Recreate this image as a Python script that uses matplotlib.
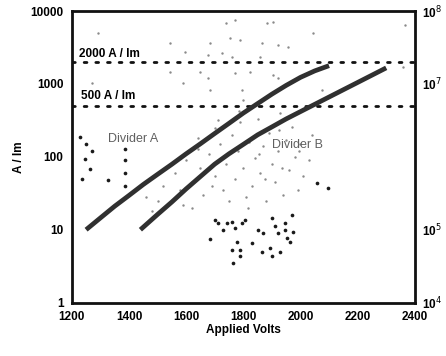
import numpy as np
import matplotlib
matplotlib.use("Agg")
from matplotlib import pyplot as plt
from matplotlib.ticker import FixedLocator, NullLocator

plt.rcParams['font.family'] = ['Liberation Sans', 'DejaVu Sans']

# divider curves (applied volts, A / lm)
volts_a = [1250, 1300, 1350, 1400, 1450, 1500, 1550, 1600, 1650, 1700, 1750,
           1800, 1850, 1900, 1950, 2000, 2050, 2100]
amps_a = [10, 14.5, 21, 29.5, 41.7, 57.5, 79, 110, 151, 209, 288,
          398, 537, 724, 955, 1230, 1510, 1780]
volts_b = [1440, 1500, 1550, 1600, 1650, 1700, 1750, 1800, 1850, 1900, 1950,
           2000, 2050, 2100, 2150, 2200, 2250, 2300]
amps_b = [10, 16.2, 24, 36.3, 53.7, 79.4, 110, 148, 200, 257, 331,
          417, 525, 661, 832, 1047, 1318, 1660]

# reference levels
levels = [2000, 500]
level_labels = ['2000 A / lm', '500 A / lm']

# dark speckles of the scan
dark_v = [1683, 1700, 1711, 1728, 1742, 1760, 1770, 1777, 1760, 1788, 1795, 1805,
          1830, 1851, 1868, 1865, 1893, 1900, 1910, 1921, 1928, 1945, 1945, 1952,
          1963, 1973, 1970, 1900, 1763, 1788, 2057, 2096,
          1234, 1245, 1263, 1326, 1228, 1385, 1385, 1385, 1385, 1250, 1270]
dark_a = [7.5, 13.4, 12.2, 9.8, 12.2, 12.6, 10.7, 6.7, 5.2, 5.2, 12.2, 13.4,
          6.5, 9.8, 8.9, 4.9, 5.7, 4.4, 11.4, 8.9, 4.9, 12.2, 9.8, 7.6,
          6.7, 9.2, 15.7, 14.7, 3.5, 4.4, 44, 37,
          50, 94, 69, 48, 187, 40, 60, 90, 130, 150, 120]

# faint speckles of the scan
light_v = [1520, 1560, 1580, 1600, 1620, 1640, 1650, 1660, 1680, 1700, 1700, 1720,
           1730, 1740, 1760, 1770, 1780, 1790, 1800, 1810, 1820, 1830, 1840, 1850,
           1860, 1870, 1880, 1890, 1900, 1910, 1920, 1930, 1940, 1950, 1960, 1970,
           1980, 1990, 2000, 2010, 2030, 1480, 1500, 1460, 1590, 1620, 1690, 1750,
           1815, 1875, 1935, 1995, 2040, 1640, 1710, 1785, 1855, 1925,
           1739, 1770, 1882, 1903, 1753, 1788, 1683, 1543, 1865, 1921, 1956, 1595,
           1676, 1725, 1760, 1858, 1543, 1648, 1676, 1770, 1823, 1588, 1683, 1795,
           1903, 1921, 1798, 2365, 2358, 2043, 2075, 1291, 1270]
light_a = [40, 60, 35, 90, 45, 130, 70, 30, 110, 55, 250, 150,
           35, 80, 200, 50, 120, 300, 70, 28, 160, 40, 95, 330,
           60, 140, 25, 210, 80, 45, 120, 400, 30, 170, 65, 260,
           100, 35, 150, 55, 90, 18, 25, 28, 22, 20, 40, 25,
           20, 50, 70, 120, 200, 180, 320, 420, 110, 230,
           6840, 7520, 6840, 7060, 4250, 3990, 3630, 3630, 3630, 3410, 3200, 2730,
           2480, 2650, 2330, 2330, 1450, 1450, 1200, 1400, 1450, 1020, 820, 820,
           1320, 1200, 600, 6500, 1700, 5000, 820, 5000, 1020]

# right axis labels
right_ticks = [1e4, 1e5, 1e7, 1e8]
right_labels = ['10$^4$', '10$^5$', '10$^7$', '10$^8$']

fig = plt.figure(figsize=(4.46, 3.56), dpi=100)
ax = fig.add_axes([0.161, 0.150, 0.769, 0.819])

ax.scatter(light_v, light_a, s=3, color='#8a8a8a', linewidths=0, zorder=1)
ax.scatter(dark_v, dark_a, s=7, color='#1a1a1a', linewidths=0, zorder=1)

for lev in levels:
    ax.plot([1200, 2400], [lev, lev], color='#111111', lw=2.0,
            linestyle=(0, (1, 3.2)), dash_capstyle='round', zorder=2)

ax.plot(volts_a, amps_a, color='#303030', lw=3.4, solid_capstyle='butt', zorder=3)
ax.plot(volts_b, amps_b, color='#303030', lw=3.4, solid_capstyle='butt', zorder=3)

ax.text(1225, 2600, level_labels[0], fontsize=8.5, fontweight='bold', va='center', zorder=4)
ax.text(1232, 680, level_labels[1], fontsize=8.5, fontweight='bold', va='center', zorder=4)
ax.text(1325, 175, 'Divider A', fontsize=9, color='#606060', va='center', zorder=4)
ax.text(1900, 145, 'Divider B', fontsize=9, color='#606060', va='center', zorder=4)

ax.set_yscale('log')
ax.set_xlim(1200, 2400)
ax.set_ylim(1, 10000)
ax.set_xticks([1200, 1400, 1600, 1800, 2000, 2200, 2400])
ax.set_yticks([1, 10, 100, 1000, 10000])
ax.set_yticklabels(['1', '10', '100', '1000', '10000'])
ax.yaxis.set_minor_locator(NullLocator())
ax.tick_params(axis='x', length=0, labelsize=8.5, pad=6)
ax.tick_params(axis='y', length=0, labelsize=8.5, pad=6)
for lab in ax.get_xticklabels() + ax.get_yticklabels():
    lab.set_fontweight('bold')

ax.set_xlabel('Applied Volts', fontsize=8.5, fontweight='bold', labelpad=1)
ax.set_ylabel('A / lm', fontsize=8.5, fontweight='bold', labelpad=4)

for sp in ax.spines.values():
    sp.set_linewidth(2.0)
    sp.set_color('#111111')

ax2 = ax.twinx()
ax2.set_yscale('log')
ax2.set_ylim(1e4, 1e8)
ax2.yaxis.set_major_locator(FixedLocator(right_ticks))
ax2.set_yticklabels(right_labels)
ax2.yaxis.set_minor_locator(NullLocator())
ax2.tick_params(axis='y', length=0, labelsize=8.5, pad=5)
for lab in ax2.get_yticklabels():
    lab.set_fontweight('bold')
for sp in ax2.spines.values():
    sp.set_visible(False)

fig.savefig('out.png', dpi=100)
